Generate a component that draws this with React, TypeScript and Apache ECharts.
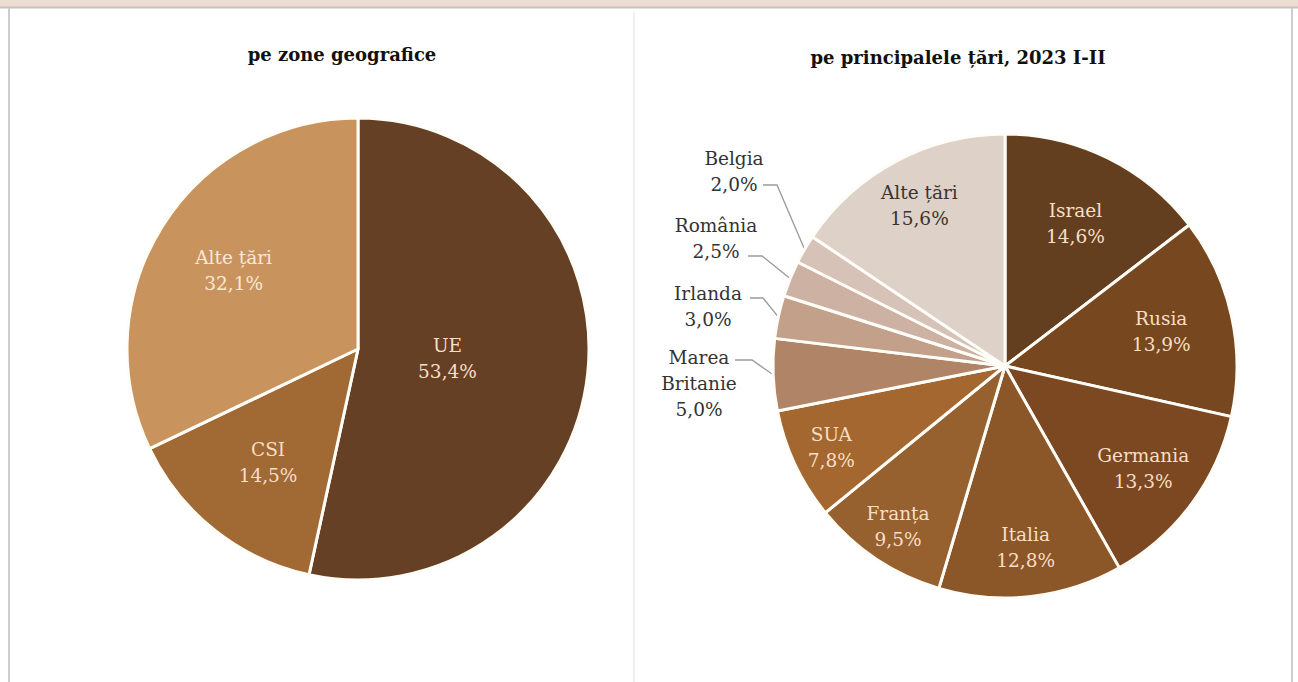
import React, { useEffect, useRef } from "react";
import * as echarts from "echarts";

// ---- data ----
const titles = ["pe zone geografice", "pe principalele țări, 2023 I-II"];
const zoneNames = ["UE", "CSI", "Alte țări"];
const zoneValues = [53.4, 14.5, 32.1];
const countryNames = [
  "Israel", "Rusia", "Germania", "Italia", "Franța", "SUA",
  "Marea Britanie", "Irlanda", "România", "Belgia", "Alte țări",
];
const countryValues = [14.6, 13.9, 13.3, 12.8, 9.5, 7.8, 5.0, 3.0, 2.5, 2.0, 15.6];

// ---- styles ----
const zoneColors = ["#654024", "#a16934", "#c9935e"];
const countryColors = [
  "#643f1f", "#77471f", "#7c4822", "#8b5628", "#97602f", "#a3672f",
  "#b08466", "#c3a08a", "#cdb1a3", "#d6c2b7", "#ddd1c8",
];
const FONT = "'DejaVu Serif', serif";
const LEFT_C = [358, 349];
const RIGHT_C = [1005, 366];
const R = 232;
const zoneLabelR = [90, 145, 147];
const countryLabelR: Record<string, number> = {
  Israel: 159, Rusia: 160, Germania: 172, Italia: 183, "Franța": 193, SUA: 192, "Alte țări": 182,
};
const outsideLabels: Record<string, { x: number; y: number; line: number[][] }> = {
  Belgia: { x: 734, y: 171, line: [[777, 185], [763, 185]] },
  "România": { x: 716, y: 238, line: [[762, 256], [748, 256]] },
  Irlanda: { x: 708, y: 306, line: [[763, 298], [750, 298]] },
  "Marea Britanie": { x: 699, y: 383, line: [[752, 360], [735, 360]] },
};

const fmt = (v: number) => v.toFixed(1).replace(".", ",") + "%";
const labelName = (n: string) => (n === "Marea Britanie" ? "Marea\nBritanie" : n);

function insideLayout(c: number[], radiusOf: (i: number) => number | undefined) {
  return (p: any) => {
    const r = radiusOf(p.dataIndex);
    if (r == null) return {};
    const lr = p.labelRect;
    const mx = lr.x + lr.width / 2;
    const my = lr.y + lr.height / 2;
    const dx = mx - c[0];
    const dy = my - c[1];
    const d = Math.hypot(dx, dy) || 1;
    return { x: c[0] + (dx / d) * r, y: c[1] + (dy / d) * r, align: "center", verticalAlign: "middle" };
  };
}

export default function App() {
  const ref = useRef<HTMLDivElement>(null);
  useEffect(() => {
    if (!ref.current) return;
    const chart = echarts.init(ref.current, undefined, { renderer: "svg" });
    const rightInside = insideLayout(RIGHT_C, (i) => countryLabelR[countryNames[i]]);
    chart.setOption({
      animation: false,
      backgroundColor: "#ffffff",
      graphic: [
        { type: "rect", shape: { x: 0, y: 0, width: 1298, height: 7 }, style: { fill: "#ebddd1" }, silent: true },
        { type: "line", shape: { x1: 0, y1: 7.5, x2: 1298, y2: 7.5 }, style: { stroke: "#c8c1ba", lineWidth: 2 }, silent: true },
        { type: "line", shape: { x1: 9, y1: 8, x2: 9, y2: 682 }, style: { stroke: "#cdcdcd", lineWidth: 2 }, silent: true },
        { type: "line", shape: { x1: 1292, y1: 8, x2: 1292, y2: 682 }, style: { stroke: "#cdcdcd", lineWidth: 2 }, silent: true },
        { type: "line", shape: { x1: 634, y1: 12, x2: 634, y2: 682 }, style: { stroke: "#efefef", lineWidth: 2 }, silent: true },
        {
          type: "text", x: 342, y: 54, silent: true,
          style: { text: titles[0], align: "center", verticalAlign: "middle", fontFamily: FONT, fontWeight: "bold", fontSize: 18, fill: "#111" },
        },
        {
          type: "text", x: 958, y: 57, silent: true,
          style: { text: titles[1], align: "center", verticalAlign: "middle", fontFamily: FONT, fontWeight: "bold", fontSize: 18, fill: "#111" },
        },
      ],
      series: [
        {
          type: "pie",
          center: LEFT_C,
          radius: [0, R - 1],
          startAngle: 90,
          clockwise: true,
          avoidLabelOverlap: false,
          itemStyle: { borderColor: "#fffdf8", borderWidth: 3 },
          label: {
            position: "inside",
            fontFamily: FONT,
            fontSize: 18.5,
            lineHeight: 26,
            color: "#f8dfc6",
            formatter: (p: any) => labelName(p.name) + "\n" + fmt(p.value),
          },
          labelLayout: insideLayout(LEFT_C, (i) => zoneLabelR[i]),
          data: zoneNames.map((n, i) => ({
            name: n,
            value: zoneValues[i],
            itemStyle: { color: zoneColors[i] },
            label: n === "Alte țări" ? { color: "#fbe8d6" } : undefined,
          })),
        },
        {
          type: "pie",
          center: RIGHT_C,
          radius: [0, R],
          startAngle: 90,
          clockwise: true,
          avoidLabelOverlap: false,
          itemStyle: { borderColor: "#fffdf8", borderWidth: 3 },
          label: {
            position: "inside",
            fontFamily: FONT,
            fontSize: 18.5,
            lineHeight: 26,
            color: "#f8dfc6",
            formatter: (p: any) => labelName(p.name) + "\n" + fmt(p.value),
          },
          labelLine: { show: true, lineStyle: { color: "#9a9a9a", width: 1.3 } },
          labelLayout: (p: any) => {
            const name = countryNames[p.dataIndex];
            const o = outsideLabels[name];
            if (!o) return rightInside(p);
            const pts = p.labelLinePoints;
            const edge = pts && pts[0] ? pts[0] : o.line[0];
            return {
              x: o.x, y: o.y, align: "center", verticalAlign: "middle",
              labelLinePoints: [edge, o.line[0], o.line[1]],
            };
          },
          data: countryNames.map((n, i) => {
            const isOut = !!outsideLabels[n];
            const item: any = { name: n, value: countryValues[i], itemStyle: { color: countryColors[i] } };
            if (isOut) {
              item.label = { position: "outside", color: "#333333" };
              item.labelLine = { show: true, length: 10, length2: 10 };
            } else {
              item.labelLine = { show: false };
              if (n === "Alte țări") item.label = { color: "#3a3330" };
            }
            return item;
          }),
        },
      ],
    });
    return () => chart.dispose();
  }, []);
  return (
    <div
      ref={ref}
      style={{ position: "absolute", left: 0, top: 0, width: 1298, height: 682 }}
    />
  );
}
